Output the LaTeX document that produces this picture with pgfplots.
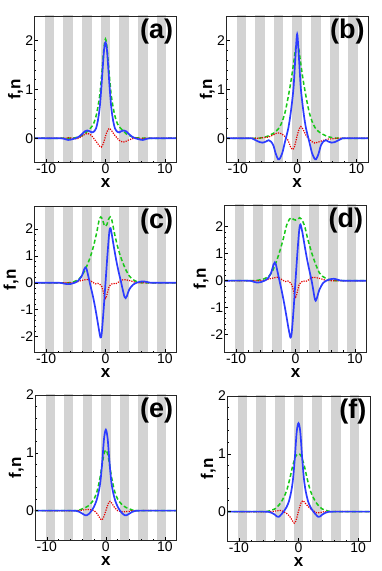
\documentclass[border=0pt]{standalone}
\usepackage{fontspec}
\setmainfont{Liberation Sans}
\usepackage{pgfplots}
\pgfplotsset{compat=1.18}

\definecolor{stripegray}{RGB}{211,211,211}
\definecolor{cblue}{RGB}{45,60,255}
\definecolor{cgreen}{RGB}{25,200,25}
\definecolor{cred}{RGB}{230,0,0}

\pgfplotsset{
  panel/.style={scale only axis, anchor=north west, axis on top,
    xmin=-12, xmax=12, xtick={-10,0,10},
    minor x tick num=4, minor y tick num=4,
    tick align=inside, xtick pos=bottom, ytick pos=left,
    major tick length=3.5pt, minor tick length=2pt,
    every tick/.style={black, line width=0.5pt},
    axis line style={black!85, line width=0.7pt},
    /pgf/number format/assume math mode=true,
    tick label style={font=\fontsize{14}{16}\selectfont, inner sep=1pt},
    xlabel={x}, ylabel={f,n},
    xlabel style={font=\fontsize{17}{20}\selectfont\bfseries, inner sep=0pt, yshift=-4pt},
    ylabel style={font=\fontsize{17}{20}\selectfont\bfseries, inner sep=1pt},
  },
  stripe/.style={fill=stripegray, draw=none, forget plot},
  gline/.style={cgreen, line width=1.5pt, dash pattern=on 4pt off 2.5pt, smooth},
  rline/.style={cred, line width=1.2pt, dash pattern=on 1.2pt off 1.2pt, smooth},
  bline/.style={cblue, line width=1.7pt, smooth},
}

\newcommand{\stripes}{%
  \addplot[stripe] coordinates {(-10.22,-5) (-8.62,-5) (-8.62,5) (-10.22,5)} -- cycle;
  \addplot[stripe] coordinates {(-7.08,-5) (-5.48,-5) (-5.48,5) (-7.08,5)} -- cycle;
  \addplot[stripe] coordinates {(-3.94,-5) (-2.34,-5) (-2.34,5) (-3.94,5)} -- cycle;
  \addplot[stripe] coordinates {(-0.8,-5) (0.8,-5) (0.8,5) (-0.8,5)} -- cycle;
  \addplot[stripe] coordinates {(2.34,-5) (3.94,-5) (3.94,5) (2.34,5)} -- cycle;
  \addplot[stripe] coordinates {(5.48,-5) (7.08,-5) (7.08,5) (5.48,5)} -- cycle;
  \addplot[stripe] coordinates {(8.62,-5) (10.22,-5) (10.22,5) (8.62,5)} -- cycle;
}
\newcommand{\tag}[1]{\node[anchor=north east, inner sep=0pt,
  font=\fontsize{27}{30}\selectfont\bfseries] at (rel axis cs:0.976,0.984) {#1};}

\begin{document}
\begin{tikzpicture}
\useasboundingbox (0pt,0pt) rectangle (382pt,571pt);

% (a)
\begin{axis}[panel, at={(34.3pt,555pt)}, width=142.4pt, height=146.7pt,
  ymin=-0.5, ymax=2.5, ytick={0,1,2}]
\stripes
\addplot[gline] coordinates {(-12,0) (-7,0) (-6,0.003) (-5,0.012) (-4.5,0.03) (-4,0.055) (-3.5,0.09) (-3,0.15) (-2.5,0.21) (-2,0.3) (-1.5,0.5) (-1,0.85) (-0.75,1.15) (-0.5,1.5) (-0.25,1.86) (0,2.03) (0.25,1.86) (0.5,1.5) (0.75,1.15) (1,0.85) (1.5,0.5) (2,0.3) (2.5,0.21) (3,0.15) (3.5,0.09) (4,0.055) (4.5,0.03) (5,0.012) (6,0.003) (7,0) (12,0)};
\addplot[rline] coordinates {(-12,0) (-7,0) (-6.3,0.01) (-5.5,0) (-5,-0.01) (-4.5,0) (-4,0.04) (-3.5,0.08) (-3,0.1) (-2.5,0.07) (-2,0) (-1.5,-0.08) (-1,-0.16) (-0.7,-0.18) (-0.4,-0.12) (-0.1,0) (0.2,0.12) (0.6,0.2) (1,0.16) (1.5,0.07) (2,0) (2.5,-0.06) (3,-0.08) (3.5,-0.06) (4,-0.03) (4.5,-0.01) (5,0.01) (5.5,0) (6.3,-0.005) (7,0) (12,0)};
\addplot[bline] coordinates {(-12,0) (-8,0) (-7,-0.01) (-6.3,-0.035) (-5.6,-0.02) (-5,0) (-4.5,0.03) (-4,0.08) (-3.5,0.14) (-3.1,0.16) (-2.7,0.145) (-2.3,0.12) (-2,0.13) (-1.6,0.2) (-1.3,0.35) (-1,0.6) (-0.75,0.95) (-0.5,1.38) (-0.25,1.8) (0,1.96) (0.25,1.8) (0.5,1.38) (0.75,0.95) (1,0.6) (1.3,0.35) (1.6,0.2) (2,0.13) (2.3,0.12) (2.7,0.145) (3.1,0.16) (3.5,0.14) (4,0.08) (4.5,0.03) (5,0) (5.6,-0.02) (6.3,-0.035) (7,-0.01) (8,0) (12,0)};
\tag{(a)}
\end{axis}

% (b)
\begin{axis}[panel, at={(226pt,555pt)}, width=142.3pt, height=146.7pt,
  ymin=-0.5, ymax=2.5, ytick={0,1,2}]
\stripes
\addplot[gline] coordinates {(-12,0) (-7,0) (-6,0.01) (-5,0.04) (-4.5,0.07) (-4,0.1) (-3.5,0.15) (-3,0.22) (-2.5,0.35) (-2,0.55) (-1.5,0.85) (-1,1.2) (-0.5,1.62) (-0.25,1.85) (0,1.95) (0.25,1.85) (0.5,1.62) (1,1.2) (1.5,0.85) (2,0.55) (2.5,0.35) (3,0.22) (3.5,0.15) (4,0.1) (4.5,0.07) (5,0.04) (6,0.01) (7,0) (12,0)};
\addplot[rline] coordinates {(-12,0) (-7,0) (-6,0.01) (-5,0.02) (-4.5,0.04) (-4,0.07) (-3.5,0.1) (-3,0.11) (-2.5,0.08) (-2,0.03) (-1.5,-0.05) (-1.1,-0.18) (-0.7,-0.23) (-0.4,-0.15) (-0.1,0) (0.2,0.14) (0.6,0.24) (1,0.18) (1.5,0.06) (2,-0.02) (2.5,-0.07) (3,-0.1) (3.5,-0.08) (4,-0.06) (4.5,-0.04) (5,-0.02) (6,-0.01) (7,0) (12,0)};
\addplot[bline] coordinates {(-12,0) (-8,0) (-7.5,-0.01) (-7,-0.04) (-6.3,-0.08) (-5.8,-0.09) (-5.3,-0.07) (-4.8,-0.04) (-4.4,-0.07) (-4,-0.15) (-3.6,-0.32) (-3.2,-0.43) (-2.9,-0.41) (-2.5,-0.3) (-2.2,-0.15) (-1.9,0) (-1.5,0.2) (-1.2,0.42) (-0.9,0.7) (-0.6,1.05) (-0.3,1.65) (0,2.13) (0.3,1.65) (0.6,1.05) (0.9,0.7) (1.2,0.42) (1.5,0.2) (1.9,0) (2.2,-0.15) (2.5,-0.3) (2.9,-0.41) (3.2,-0.43) (3.6,-0.32) (4,-0.15) (4.4,-0.07) (4.8,-0.04) (5.3,-0.07) (5.8,-0.09) (6.3,-0.08) (7,-0.04) (7.5,-0.01) (8,0) (12,0)};
\tag{(b)}
\end{axis}

% (c)
\begin{axis}[panel, at={(34.3pt,364.3pt)}, width=142.4pt, height=146pt,
  ymin=-2.6, ymax=2.83, ytick={-2,-1,0,1,2}]
\stripes
\addplot[gline] coordinates {(-12,0) (-6.5,0) (-6,0.01) (-5.5,0.03) (-5,0.07) (-4.5,0.14) (-4,0.26) (-3.5,0.45) (-3,0.7) (-2.5,1.0) (-2,1.38) (-1.5,1.85) (-1.1,2.3) (-0.8,2.45) (-0.5,2.35) (-0.25,2.17) (0,2.1) (0.25,2.17) (0.5,2.35) (0.8,2.45) (1.1,2.3) (1.5,1.85) (2,1.38) (2.5,1.0) (3,0.7) (3.5,0.45) (4,0.26) (4.5,0.14) (5,0.07) (5.5,0.03) (6,0.01) (6.5,0) (12,0)};
\addplot[rline] coordinates {(-12,0) (-6,0) (-5,0.02) (-4.3,0.07) (-3.5,0.11) (-3,0.12) (-2.5,0.07) (-2,0) (-1.7,-0.04) (-1.3,-0.02) (-1,-0.05) (-0.6,-0.15) (-0.3,-0.4) (0,-0.58) (0.3,-0.4) (0.6,-0.15) (1,-0.05) (1.3,-0.02) (1.7,-0.04) (2,0) (2.5,0.07) (3,0.12) (3.5,0.11) (4.3,0.07) (5,0.02) (6,0) (12,0)};
\addplot[bline] coordinates {(-12,0) (-8,0) (-7.2,-0.02) (-6.5,-0.05) (-5.8,-0.04) (-5.2,0) (-4.6,0.08) (-4,0.25) (-3.6,0.5) (-3.4,0.57) (-3.2,0.52) (-2.9,0.25) (-2.6,-0.05) (-2.2,-0.42) (-1.8,-0.85) (-1.4,-1.35) (-1.1,-1.75) (-0.85,-2.03) (-0.65,-1.9) (-0.35,-1.1) (0,0) (0.35,1.1) (0.65,1.9) (0.85,2.03) (1.1,1.75) (1.4,1.35) (1.8,0.85) (2.2,0.42) (2.6,0.05) (2.9,-0.25) (3.2,-0.52) (3.4,-0.57) (3.6,-0.5) (4,-0.25) (4.6,-0.08) (5.2,0) (5.8,0.04) (6.5,0.05) (7.2,0.02) (8,0) (12,0)};
\tag{(c)}
\end{axis}

% (d)
\begin{axis}[panel, at={(224.3pt,366pt)}, width=142.4pt, height=147.3pt,
  ymin=-2.65, ymax=2.8, ytick={-2,-1,0,1,2}]
\stripes
\addplot[gline] coordinates {(-12,0) (-7,0) (-6.5,0.01) (-6,0.03) (-5.5,0.05) (-5,0.1) (-4.5,0.17) (-4,0.3) (-3.5,0.55) (-3,0.85) (-2.5,1.2) (-2,1.6) (-1.5,2.05) (-1,2.28) (-0.7,2.33) (-0.35,2.27) (0,2.24) (0.35,2.27) (0.7,2.33) (1,2.28) (1.5,2.05) (2,1.6) (2.5,1.2) (3,0.85) (3.5,0.55) (4,0.3) (4.5,0.17) (5,0.1) (5.5,0.05) (6,0.03) (6.5,0.01) (7,0) (12,0)};
\addplot[rline] coordinates {(-12,0) (-6,0) (-5,0.02) (-4.3,0.07) (-3.5,0.11) (-3,0.13) (-2.5,0.07) (-2,0) (-1.7,-0.03) (-1.3,-0.01) (-1,-0.05) (-0.6,-0.16) (-0.3,-0.42) (0,-0.62) (0.3,-0.42) (0.6,-0.16) (1,-0.05) (1.3,-0.01) (1.7,-0.03) (2,0) (2.5,0.07) (3,0.13) (3.5,0.11) (4.3,0.07) (5,0.02) (6,0) (12,0)};
\addplot[bline] coordinates {(-12,0) (-8,0) (-7.2,-0.03) (-6.5,-0.07) (-5.8,-0.05) (-5.2,0) (-4.6,0.1) (-4.1,0.3) (-3.7,0.6) (-3.5,0.67) (-3.3,0.6) (-3,0.3) (-2.7,0) (-2.3,-0.4) (-1.9,-0.85) (-1.5,-1.35) (-1.15,-1.8) (-0.85,-2.1) (-0.65,-1.95) (-0.35,-1.15) (0,0) (0.35,1.12) (0.65,1.92) (0.85,2.08) (1.15,1.8) (1.5,1.35) (1.9,0.85) (2.3,0.42) (2.7,0.02) (3,-0.35) (3.2,-0.62) (3.4,-0.74) (3.6,-0.65) (4,-0.35) (4.6,-0.1) (5.2,0) (5.8,0.05) (6.5,0.07) (7.2,0.03) (8,0) (12,0)};
\tag{(d)}
\end{axis}

% (e)
\begin{axis}[panel, at={(35pt,176pt)}, width=141.7pt, height=145.7pt,
  ymin=-0.52, ymax=2, ytick={0,1,2}]
\stripes
\addplot[gline] coordinates {(-12,0) (-5,0) (-4.5,0.01) (-4,0.03) (-3.5,0.05) (-3,0.08) (-2.5,0.13) (-2,0.2) (-1.5,0.33) (-1,0.56) (-0.5,0.88) (-0.25,1.0) (0,1.05) (0.25,1.0) (0.5,0.88) (1,0.56) (1.5,0.33) (2,0.2) (2.5,0.13) (3,0.08) (3.5,0.05) (4,0.03) (4.5,0.01) (5,0) (12,0)};
\addplot[rline] coordinates {(-12,0) (-5,0) (-4,0.01) (-3,0.02) (-2,0) (-1.5,-0.05) (-1,-0.13) (-0.7,-0.16) (-0.4,-0.12) (0,0) (0.4,0.12) (0.7,0.16) (1,0.13) (1.5,0.05) (2,0) (3,-0.02) (4,-0.01) (5,0) (12,0)};
\addplot[bline] coordinates {(-12,0) (-6,0) (-5,-0.005) (-4.5,-0.02) (-4,-0.05) (-3.5,-0.08) (-3.2,-0.08) (-2.8,-0.05) (-2.4,0) (-2,0.07) (-1.6,0.17) (-1.2,0.33) (-0.9,0.52) (-0.6,0.86) (-0.3,1.25) (0,1.4) (0.3,1.25) (0.6,0.86) (0.9,0.52) (1.2,0.33) (1.6,0.17) (2,0.07) (2.4,0) (2.8,-0.05) (3.2,-0.08) (3.5,-0.08) (4,-0.05) (4.5,-0.02) (5,-0.005) (6,0) (12,0)};
\tag{(e)}
\end{axis}

% (f)
\begin{axis}[panel, at={(227pt,175pt)}, width=143pt, height=145.7pt,
  ymin=-0.52, ymax=2, ytick={0,1,2}]
\stripes
\addplot[gline] coordinates {(-12,0) (-6,0) (-5,0.01) (-4.5,0.025) (-4,0.045) (-3.5,0.09) (-3,0.15) (-2.5,0.24) (-2,0.36) (-1.5,0.55) (-1,0.78) (-0.5,0.95) (-0.25,0.99) (0,1.0) (0.25,0.99) (0.5,0.95) (1,0.78) (1.5,0.55) (2,0.36) (2.5,0.24) (3,0.15) (3.5,0.09) (4,0.045) (4.5,0.025) (5,0.01) (6,0) (12,0)};
\addplot[rline] coordinates {(-12,0) (-5,0) (-4,0.01) (-3,0.02) (-2.5,0) (-2,-0.03) (-1.5,-0.08) (-1,-0.16) (-0.7,-0.2) (-0.4,-0.15) (-0.1,-0.03) (0.2,0.08) (0.5,0.17) (0.75,0.19) (1.1,0.15) (1.6,0.09) (2,0.05) (2.5,0.02) (3,-0.02) (3.5,-0.02) (4,-0.01) (5,0) (12,0)};
\addplot[bline] coordinates {(-12,0) (-6,0) (-5,-0.005) (-4.5,-0.02) (-4,-0.05) (-3.6,-0.085) (-3.3,-0.09) (-2.9,-0.05) (-2.5,0) (-2,0.08) (-1.6,0.18) (-1.2,0.36) (-0.9,0.58) (-0.6,0.95) (-0.3,1.38) (0,1.53) (0.3,1.38) (0.6,0.95) (0.9,0.58) (1.2,0.36) (1.6,0.18) (2,0.08) (2.5,0) (2.9,-0.05) (3.3,-0.09) (3.6,-0.085) (4,-0.05) (4.5,-0.02) (5,-0.005) (6,0) (12,0)};
\tag{(f)}
\end{axis}
\end{tikzpicture}
\end{document}
